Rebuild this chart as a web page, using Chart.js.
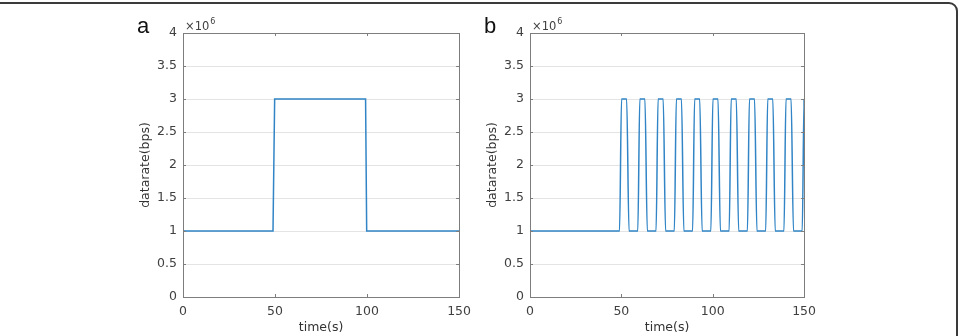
<!DOCTYPE html>
<html>
<head>
<meta charset="utf-8">
<script src="https://cdn.jsdelivr.net/npm/chart.js@4.4.1/dist/chart.umd.min.js"></script>
<style>
    html, body { margin: 0; padding: 0; background: #ffffff; overflow: hidden; }
    body { width: 959px; height: 336px; position: relative; }
    .frame {
        position: absolute;
        top: 2px; left: -10px; right: 1px; bottom: -10px;
        border: 2px solid #3a3a3a;
        border-top-right-radius: 9px;
    }
    .panel { position: absolute; top: 0; height: 336px; }
    #panel-a { left: 128px; width: 350px; }
    #panel-b { left: 475px; width: 348px; }
</style>
</head>
<body>
<div class="frame"></div>
<div class="panel" id="panel-a"><canvas id="chart-a"></canvas></div>
<div class="panel" id="panel-b"><canvas id="chart-b"></canvas></div>
<script>
// Panel a: one step up at ~50 s, back down at ~100 s (values in 10^6 bps)
const timeA = [0, 48.9, 49.8, 99.2, 99.8, 150];
const rateA = [1, 1, 3, 3, 1, 1];

// Panel b: flat until ~49 s, then pulses every ~10 s (values in 10^6 bps)
const timeB = [
    0, 49, 50.1, 52.9, 54.2,
    59, 60.1, 62.9, 64.2,
    69, 70.1, 72.9, 74.2,
    79, 80.1, 82.9, 84.2,
    89, 90.1, 92.9, 94.2,
    99, 100.1, 102.9, 104.2,
    109, 110.1, 112.9, 114.2,
    119, 120.1, 122.9, 124.2,
    129, 130.1, 132.9, 134.2,
    139, 140.1, 142.9, 144.2,
    149, 150, 150
];
const rateB = [
    1, 1, 3, 3, 1,
    1, 3, 3, 1,
    1, 3, 3, 1,
    1, 3, 3, 1,
    1, 3, 3, 1,
    1, 3, 3, 1,
    1, 3, 3, 1,
    1, 3, 3, 1,
    1, 3, 3, 1,
    1, 3, 3, 1,
    1, 3, 2
];

const xTicks = [0, 50, 100, 150];
const yTicks = [0, 0.5, 1, 1.5, 2, 2.5, 3, 3.5, 4];
const xLabel = 'time(s)';
const yLabel = 'datarate(bps)';
const yExponent = '6';

const lineColor = '#3185c6';
const textColor = '#404040';
const boxColor = '#7d7d7d';
const gridColor = '#e4e4e4';
const tickFont = 'DejaVu Sans';

/**
 * Draw box, inward tick marks, exponent and panel letter
 */
const matlabAxes = {
    id: 'matlabAxes',
    afterDraw(chart, args, opts) {
        const { ctx, chartArea: a, scales } = chart;
        ctx.save();

        // Axes box
        ctx.strokeStyle = boxColor;
        ctx.lineWidth = 1;
        ctx.strokeRect(Math.round(a.left) + 0.5, Math.round(a.top) + 0.5,
            Math.round(a.right - a.left), Math.round(a.bottom - a.top));

        // Inward ticks
        ctx.beginPath();
        xTicks.forEach(v => {
            const x = Math.round(scales.x.getPixelForValue(v)) + 0.5;
            ctx.moveTo(x, a.bottom); ctx.lineTo(x, a.bottom - 3);
            ctx.moveTo(x, a.top); ctx.lineTo(x, a.top + 3);
        });
        yTicks.forEach(v => {
            const y = Math.round(scales.y.getPixelForValue(v)) + 0.5;
            ctx.moveTo(a.left, y); ctx.lineTo(a.left + 3, y);
            ctx.moveTo(a.right, y); ctx.lineTo(a.right - 3, y);
        });
        ctx.stroke();

        // x10^6 exponent
        ctx.fillStyle = textColor;
        ctx.textBaseline = 'alphabetic';
        ctx.textAlign = 'left';
        ctx.font = '11.5px "' + tickFont + '"';
        ctx.fillText('\u00d710', a.left + 2, a.top - 3);
        const w = ctx.measureText('\u00d710').width;
        ctx.font = '8px "' + tickFont + '"';
        ctx.fillText(yExponent, a.left + 3 + w, a.top - 9);

        // Panel letter
        ctx.fillStyle = '#111111';
        ctx.font = '22px "Liberation Sans"';
        ctx.fillText(opts.letter, a.left - 46, a.top);

        ctx.restore();
    }
};

/**
 * Build one datarate panel
 */
function buildPanel(canvasId, letter, times, rates, smooth) {
    const points = times.map((t, i) => ({ x: t, y: rates[i] }));

    new Chart(document.getElementById(canvasId), {
        type: 'line',
        data: {
            datasets: [{
                data: points,
                borderColor: lineColor,
                borderWidth: 1.5,
                pointRadius: 0,
                fill: false,
                cubicInterpolationMode: smooth ? 'monotone' : 'default',
                tension: 0
            }]
        },
        options: {
            responsive: true,
            maintainAspectRatio: false,
            animation: false,
            events: [],
            layout: {
                padding: { top: 33, right: 12, bottom: 0, left: 0 }
            },
            scales: {
                x: {
                    type: 'linear',
                    min: 0,
                    max: 150,
                    afterFit: s => { s.height = 39; },
                    afterBuildTicks: s => { s.ticks = xTicks.map(v => ({ value: v })); },
                    grid: { display: false, drawTicks: false },
                    border: { display: false },
                    ticks: {
                        color: textColor,
                        padding: 7,
                        maxRotation: 0,
                        callback: value => String(value),
                        font: { family: tickFont, size: 12.5 }
                    },
                    title: {
                        display: true,
                        text: xLabel,
                        color: '#333333',
                        padding: { top: 0, bottom: 1 },
                        font: { family: tickFont, size: 12.5 }
                    }
                },
                y: {
                    min: 0,
                    max: 4,
                    afterFit: s => { s.width = 55; },
                    afterBuildTicks: s => { s.ticks = yTicks.map(v => ({ value: v })); },
                    grid: { color: gridColor, drawTicks: false },
                    border: { display: false },
                    ticks: {
                        color: textColor,
                        padding: 6,
                        callback: value => String(value),
                        font: { family: tickFont, size: 12.5 }
                    },
                    title: {
                        display: true,
                        text: yLabel,
                        color: '#333333',
                        padding: { top: 10, bottom: 0 },
                        font: { family: tickFont, size: 12.5 }
                    }
                }
            },
            plugins: {
                legend: { display: false },
                tooltip: { enabled: false },
                matlabAxes: { letter: letter }
            }
        },
        plugins: [matlabAxes]
    });
}

// Draw both panels
buildPanel('chart-a', 'a', timeA, rateA, false);
buildPanel('chart-b', 'b', timeB, rateB, true);
</script>
</body>
</html>
